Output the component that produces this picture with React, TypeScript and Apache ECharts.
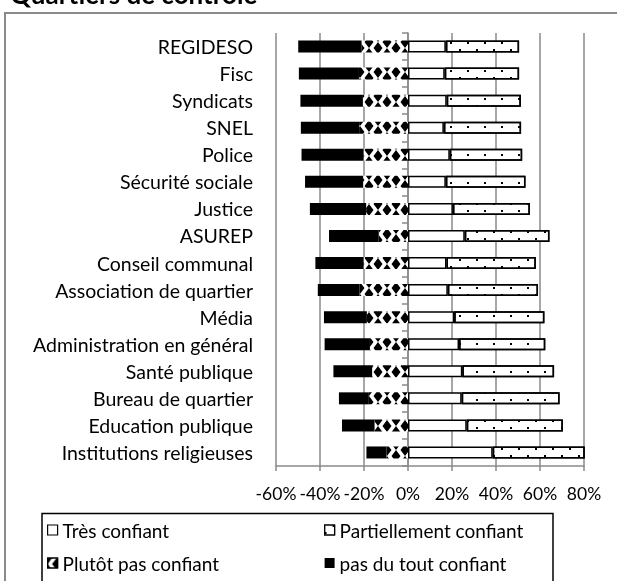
import React, { useEffect, useRef } from 'react';
import * as echarts from 'echarts';

const categories = [
  'REGIDESO',
  'Fisc',
  'Syndicats',
  'SNEL',
  'Police',
  'Sécurité sociale',
  'Justice',
  'ASUREP',
  'Conseil communal',
  'Association de quartier',
  'Média',
  'Administration en général',
  'Santé publique',
  'Bureau de quartier',
  'Education publique',
  'Institutions religieuses',
];

const tresConfiant = [17.2, 16.7, 17.6, 16.3, 19.0, 17.2, 20.4, 25.8, 17.5, 18.1, 21.0, 23.2, 24.7, 24.4, 26.7, 38.5];
const partiellementConfiant = [33.3, 33.8, 33.7, 35.1, 32.9, 36.2, 35.0, 38.5, 40.6, 41.0, 41.0, 39.2, 41.7, 44.5, 43.7, 42.2];
const plutotPasConfiant = [-21.1, -22.3, -20.5, -22.2, -20.2, -20.4, -19.0, -13.3, -20.2, -22.0, -18.7, -17.3, -16.3, -17.8, -15.2, -9.8];
const pasDuToutConfiant = [-28.8, -27.3, -28.4, -26.5, -28.2, -26.4, -25.6, -22.6, -21.9, -19.0, -19.5, -20.6, -17.6, -13.6, -14.8, -9.1];

const seriesNames = ['Très confiant', 'Partiellement confiant', 'Plutôt pas confiant', 'pas du tout confiant'];
const xMin = -60;
const xMax = 80;
const xStep = 20;
const title = 'Quartiers de contrôle';

const FONT = 'Lato';
const GRID_GRAY = '#8a8a8a';

// diamond lattice tile (18 x 12): a centred diamond plus corner triangles
const DIAMOND_TILE =
  'path://M4.5 6 L9 0 L13.5 6 L9 12 Z M0 0 L4.5 0 L0 6 Z M18 0 L13.5 0 L18 6 Z M0 12 L4.5 12 L0 6 Z M18 12 L13.5 12 L18 6 Z';

export default function App() {
  const ref = useRef<HTMLDivElement>(null);

  useEffect(() => {
    if (!ref.current) return;
    const chart = echarts.init(ref.current, undefined, { renderer: 'svg' });

    const legendText = { fontSize: 19, lineHeight: 20, color: '#000', fontFamily: FONT };

    const option: any = {
      animation: false,
      textStyle: { fontFamily: FONT },
      grid: { left: 276, right: 33, top: 33, bottom: 115, containLabel: false },
      graphic: [
        {
          type: 'rect',
          shape: { x: 5, y: 13, width: 800, height: 800 },
          style: { fill: 'none', stroke: GRID_GRAY, lineWidth: 2 },
          silent: true,
        },
        {
          type: 'rect',
          shape: { x: 42, y: 513.5, width: 511, height: 80 },
          style: { fill: 'none', stroke: '#000', lineWidth: 1.5 },
          silent: true,
        },
        {
          type: 'text',
          x: 10,
          y: -6,
          style: {
            text: title,
            font: 'bold 26px Lato',
            fill: '#000',
            textAlign: 'left',
            textVerticalAlign: 'middle',
          },
          silent: true,
        },
      ],
      legend: [
        {
          orient: 'vertical',
          left: 47,
          top: 520,
          padding: 0,
          itemGap: 13,
          itemWidth: 10,
          itemHeight: 10,
          icon: 'rect',
          textStyle: legendText,
          data: [
            { name: seriesNames[0], itemStyle: { borderColor: '#000', borderWidth: 1.2 } },
            { name: seriesNames[2], itemStyle: { borderColor: '#000', borderWidth: 1.2 } },
          ],
        },
        {
          orient: 'vertical',
          left: 324,
          top: 520,
          padding: 0,
          itemGap: 13,
          itemWidth: 10,
          itemHeight: 10,
          icon: 'rect',
          textStyle: legendText,
          data: [
            { name: seriesNames[1], itemStyle: { borderColor: '#000', borderWidth: 1.2 } },
            { name: seriesNames[3] },
          ],
        },
      ],
      xAxis: {
        type: 'value',
        min: xMin,
        max: xMax,
        interval: xStep,
        axisLine: { show: true, onZero: false, lineStyle: { color: GRID_GRAY, width: 1.5 } },
        axisTick: { show: true, length: 5, lineStyle: { color: GRID_GRAY, width: 1.5 } },
        splitLine: { show: true, lineStyle: { color: GRID_GRAY, width: 1.5 } },
        axisLabel: {
          formatter: (v: number) => `${v}%`,
          fontSize: 17.5,
          color: '#000',
          fontFamily: FONT,
          margin: 18,
          interval: 0,
          showMinLabel: true,
          showMaxLabel: true,
          hideOverlap: false,
        },
      },
      yAxis: [
        {
          type: 'category',
          data: categories,
          inverse: true,
          position: 'left',
          axisLine: { show: false, onZero: false },
          axisTick: { show: false },
          splitLine: { show: false },
          axisLabel: { margin: 23, fontSize: 19.5, color: '#000', fontFamily: FONT, interval: 0 },
        },
        {
          type: 'category',
          data: categories,
          inverse: true,
          position: 'left',
          axisLine: { show: true, onZero: true, lineStyle: { color: GRID_GRAY, width: 1.5 } },
          axisTick: { show: true, length: 6, lineStyle: { color: GRID_GRAY, width: 1.5 } },
          axisLabel: { show: false },
          splitLine: { show: false },
        },
      ],
      series: [
        {
          name: seriesNames[0],
          type: 'bar',
          stack: 'total',
          barWidth: 12,
          yAxisIndex: 0,
          data: tresConfiant,
          itemStyle: { color: '#fff', borderColor: '#000', borderWidth: 1.5 },
        },
        {
          name: seriesNames[1],
          type: 'bar',
          stack: 'total',
          barWidth: 12,
          yAxisIndex: 0,
          data: partiellementConfiant,
          itemStyle: {
            color: '#fff',
            borderColor: '#000',
            borderWidth: 1.5,
            decal: {
              symbol: 'rect',
              symbolSize: 1,
              symbolKeepAspect: false,
              color: '#000',
              backgroundColor: '#fff',
              dashArrayX: [[1.5, 14.5], [0, 8, 1.5, 6.5]],
              dashArrayY: [1.5, 4.5],
            },
          },
        },
        {
          name: seriesNames[2],
          type: 'bar',
          stack: 'total',
          barWidth: 12,
          yAxisIndex: 0,
          data: plutotPasConfiant,
          itemStyle: {
            color: '#fff',
            decal: {
              symbol: DIAMOND_TILE,
              symbolSize: 1,
              symbolKeepAspect: false,
              color: '#000',
              backgroundColor: '#fff',
              dashArrayX: [18, 0],
              dashArrayY: [12, 0],
            },
          },
        },
        {
          name: seriesNames[3],
          type: 'bar',
          stack: 'total',
          barWidth: 12,
          yAxisIndex: 0,
          data: pasDuToutConfiant,
          itemStyle: { color: '#000' },
        },
      ],
    };

    chart.setOption(option);
    return () => chart.dispose();
  }, []);

  return (
    <div
      ref={ref}
      style={{ position: 'fixed', left: 0, top: 0, width: 617, height: 581 }}
    />
  );
}
